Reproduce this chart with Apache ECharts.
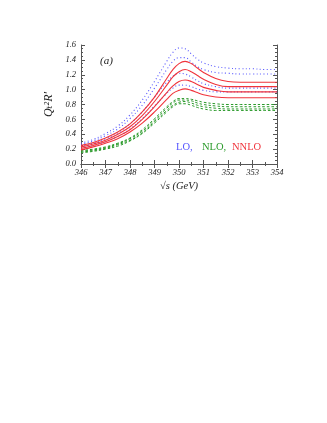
<!DOCTYPE html>
<html>
<head>
<meta charset="utf-8">
<script src="https://cdn.jsdelivr.net/npm/echarts@6/dist/echarts.min.js"></script>
<style>html,body{margin:0;padding:0;background:#fff;}#c{width:327px;height:423px;}</style>
</head>
<body>
<div id="c"></div>
<script>
// sqrt(s) in GeV
const energies = [346, 346.5, 347, 347.5, 348, 348.5, 349, 349.5, 349.75, 350, 350.25, 350.5, 350.75, 351, 351.5, 352, 352.5, 353, 353.5, 354];
// LO (blue dotted)
const lo1 = [0.28,0.33,0.41,0.51,0.66,0.86,1.11,1.38,1.50,1.56,1.55,1.48,1.41,1.36,1.31,1.29,1.28,1.28,1.27,1.27];
const lo2 = [0.26,0.31,0.38,0.47,0.61,0.79,1.02,1.27,1.38,1.43,1.43,1.37,1.31,1.27,1.23,1.22,1.21,1.21,1.21,1.21];
const lo3 = [0.23,0.28,0.34,0.42,0.54,0.70,0.90,1.10,1.18,1.22,1.21,1.17,1.12,1.08,1.04,1.02,1.02,1.02,1.02,1.02];
const lo4 = [0.21,0.25,0.30,0.37,0.47,0.61,0.78,0.95,1.02,1.06,1.06,1.04,1.01,0.99,0.97,0.97,0.97,0.97,0.97,0.97];
// NLO (green dashed)
const nlo1 = [0.18,0.20,0.23,0.28,0.35,0.46,0.61,0.77,0.84,0.88,0.88,0.87,0.85,0.83,0.81,0.80,0.80,0.80,0.80,0.80];
const nlo2 = [0.17,0.19,0.22,0.27,0.34,0.44,0.59,0.75,0.82,0.86,0.86,0.85,0.82,0.80,0.78,0.77,0.77,0.77,0.77,0.77];
const nlo3 = [0.16,0.18,0.21,0.26,0.32,0.42,0.57,0.72,0.79,0.83,0.84,0.82,0.79,0.77,0.75,0.74,0.74,0.74,0.74,0.74];
const nlo4 = [0.15,0.17,0.20,0.24,0.31,0.41,0.55,0.70,0.77,0.81,0.81,0.79,0.76,0.74,0.72,0.72,0.72,0.72,0.72,0.72];
// NNLO (red solid)
const nnlo1 = [0.25,0.29,0.35,0.43,0.54,0.70,0.90,1.15,1.27,1.35,1.38,1.35,1.29,1.23,1.15,1.11,1.10,1.10,1.10,1.10];
const nnlo2 = [0.23,0.27,0.32,0.40,0.50,0.65,0.84,1.06,1.17,1.24,1.27,1.24,1.19,1.14,1.07,1.04,1.04,1.04,1.04,1.04];
const nnlo3 = [0.21,0.25,0.30,0.37,0.46,0.60,0.77,0.96,1.05,1.11,1.13,1.11,1.07,1.03,0.99,0.97,0.97,0.97,0.97,0.97];
const nnlo4 = [0.19,0.23,0.28,0.34,0.43,0.55,0.70,0.87,0.95,0.99,1.01,0.99,0.96,0.93,0.90,0.89,0.89,0.89,0.89,0.89];

const xTicks = [346,347,348,349,350,351,352,353,354];
const yTicks = [0.0,0.2,0.4,0.6,0.8,1.0,1.2,1.4,1.6];

const BLUE = '#5555ff', GREEN = '#2a9a2a', RED = '#f0343c';
function mk(vals, color, type, width) {
  return {
    type: 'line', smooth: 0.4, symbol: 'none', silent: true,
    data: energies.map((e, i) => [e, vals[i]]),
    lineStyle: { color: color, type: type, width: width }
  };
}
const series = [
  mk(lo1, BLUE, [1, 2.5], 1.1), mk(lo2, BLUE, [1, 2.5], 1.1), mk(lo3, BLUE, [1, 2.5], 1.1), mk(lo4, BLUE, [1, 2.5], 1.1),
  mk(nlo1, GREEN, [2.5, 2], 1), mk(nlo2, GREEN, [2.5, 2], 1), mk(nlo3, GREEN, [2.5, 2], 1), mk(nlo4, GREEN, [2.5, 2], 1),
  mk(nnlo1, RED, 'solid', 1.1), mk(nnlo2, RED, 'solid', 1.1), mk(nnlo3, RED, 'solid', 1.1), mk(nnlo4, RED, 'solid', 1.1)
];

const font = '"Liberation Serif", "DejaVu Serif", serif';
const axisCommon = {
  axisLine: { show: true, lineStyle: { color: '#555', width: 1 } },
  axisTick: { show: true, inside: true, length: 4, lineStyle: { color: '#555' } },
  splitLine: { show: false }
};
const chart = echarts.init(document.getElementById('c'));
chart.setOption({
  animation: false,
  backgroundColor: '#fff',
  grid: { left: 81, right: 50, top: 45, bottom: 259, containLabel: false },
  xAxis: [
    Object.assign({
      type: 'value', min: xTicks[0], max: xTicks[xTicks.length - 1], interval: 1, position: 'bottom',
      axisLabel: { fontFamily: font, fontStyle: 'italic', fontSize: 8.5, color: '#222', margin: 4 },
      name: '√s (GeV)', nameLocation: 'middle', nameGap: 17,
      nameTextStyle: { fontFamily: font, fontStyle: 'italic', fontSize: 10.5, color: '#222' }
    }, axisCommon, { minorTick: { show: true, splitNumber: 2, length: 2, lineStyle: { color: '#555' } } }),
    Object.assign({
      type: 'value', min: xTicks[0], max: xTicks[xTicks.length - 1], interval: 1, position: 'top',
      axisLabel: { show: false }
    }, axisCommon, { minorTick: { show: true, splitNumber: 2, length: 2, lineStyle: { color: '#555' } } })
  ],
  yAxis: [
    Object.assign({
      type: 'value', min: yTicks[0], max: yTicks[yTicks.length - 1], interval: 0.2, position: 'left',
      axisLabel: { fontFamily: font, fontStyle: 'italic', fontSize: 8.5, color: '#222', margin: 5,
        formatter: v => v.toFixed(1) },
      name: 'Qₜ²R′', nameLocation: 'middle', nameGap: 21, nameRotate: 90,
      nameTextStyle: { fontFamily: font, fontStyle: 'italic', fontSize: 12, color: '#222' }
    }, axisCommon, { minorTick: { show: true, splitNumber: 4, length: 2, lineStyle: { color: '#555' } } }),
    Object.assign({
      type: 'value', min: yTicks[0], max: yTicks[yTicks.length - 1], interval: 0.2, position: 'right',
      axisLabel: { show: false }
    }, axisCommon, { minorTick: { show: true, splitNumber: 4, length: 2, lineStyle: { color: '#555' } } })
  ],
  series: series,
  graphic: [
    { type: 'text', left: 100, top: 56, style: { text: '(a)', fontFamily: font, fontStyle: 'italic', fontSize: 11, fill: '#222' } },
    { type: 'text', left: 176, top: 142, style: { text: 'LO,', fontFamily: font, fontSize: 10.5, fill: BLUE } },
    { type: 'text', left: 202, top: 142, style: { text: 'NLO,', fontFamily: font, fontSize: 10.5, fill: GREEN } },
    { type: 'text', left: 232, top: 142, style: { text: 'NNLO', fontFamily: font, fontSize: 10.5, fill: RED } }
  ]
});
</script>
</body>
</html>
